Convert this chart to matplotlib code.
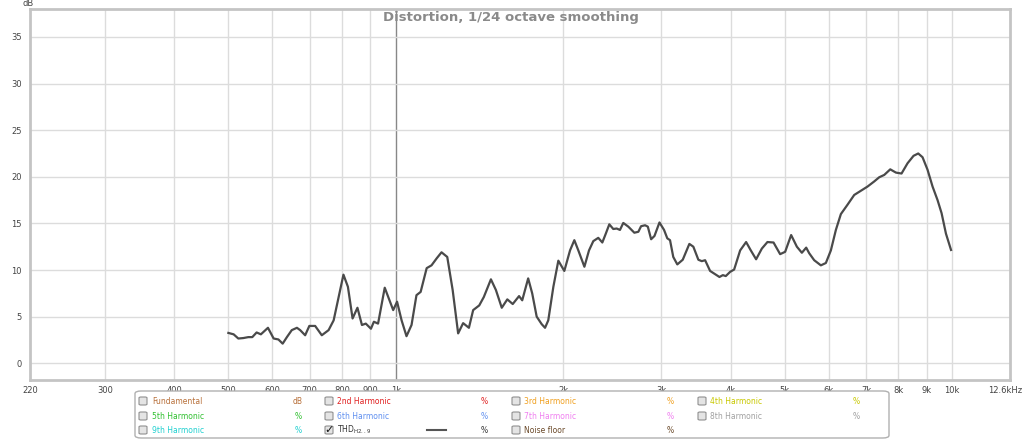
import matplotlib.pyplot as plt
import matplotlib.patches as mpatches
import numpy as np

# THD H2..9 curve (Hz, dB)
freq = [500, 511, 521, 532, 543, 552, 562, 572, 589, 603, 615, 626, 637, 650,
        664, 673, 687, 699, 716, 736, 757, 773, 789, 805, 820, 836, 853, 869,
        883, 902, 913, 929, 955, 969, 989, 1005, 1024, 1045, 1067, 1089, 1108,
        1136, 1159, 1184, 1208, 1237, 1265, 1294, 1321, 1353, 1377, 1412, 1439,
        1482, 1513, 1550, 1586, 1622, 1665, 1687, 1729, 1758, 1791, 1828, 1854,
        1879, 1919, 1959, 2008, 2056, 2093, 2128, 2182, 2224, 2264, 2311, 2350,
        2384, 2419, 2459, 2494, 2528, 2563, 2617, 2683, 2728, 2759, 2805, 2837,
        2876, 2916, 2977, 3034, 3075, 3110, 3152, 3205, 3278, 3369, 3425, 3497,
        3547, 3596, 3671, 3748, 3816, 3870, 3917, 3988, 4055, 4157, 4261, 4345,
        4441, 4548, 4654, 4773, 4905, 5008, 5134, 5257, 5367, 5464, 5532, 5648,
        5806, 5927, 6051, 6178, 6307, 6482, 6665, 6852, 7042, 7240, 7392, 7547,
        7737, 7921, 8107, 8311, 8520, 8687, 8843, 9029, 9218, 9410, 9568, 9743,
        9950]
thd = [3.25, 3.1, 2.65, 2.7, 2.8, 2.8, 3.3, 3.1, 3.8, 2.65, 2.55, 2.1, 2.8, 3.55,
       3.8, 3.55, 3.0, 4.0, 4.0, 3.0, 3.55, 4.6, 7.1, 9.5, 8.2, 4.8, 5.95, 4.1,
       4.25, 3.7, 4.45, 4.25, 8.1, 7.1, 5.7, 6.6, 4.6, 2.9, 4.1, 7.3, 7.65,
       10.2, 10.5, 11.25, 11.9, 11.4, 7.85, 3.2, 4.3, 3.8, 5.7, 6.2, 7.1, 9.0,
       7.85, 5.95, 6.85, 6.35, 7.2, 6.75, 9.1, 7.5, 5.0, 4.2, 3.8, 4.6, 8.2,
       11.0, 9.9, 12.1, 13.2, 12.1, 10.35, 12.1, 13.1, 13.45, 12.95, 13.9, 14.9,
       14.4, 14.45, 14.3, 15.05, 14.65, 14.0, 14.1, 14.7, 14.8, 14.65, 13.3,
       13.65, 15.1, 14.3, 13.4, 13.2, 11.4, 10.6, 11.1, 12.8, 12.5, 11.1, 10.95,
       11.05, 9.9, 9.55, 9.25, 9.45, 9.35, 9.8, 10.05, 12.1, 13.0, 12.1, 11.15,
       12.3, 13.0, 12.95, 11.7, 11.95, 13.75, 12.5, 11.85, 12.4, 11.8, 11.05,
       10.5, 10.75, 12.1, 14.3, 16.0, 17.0, 18.05, 18.5, 18.95, 19.5, 19.95,
       20.2, 20.8, 20.45, 20.35, 21.45, 22.25, 22.5, 22.1, 20.75, 18.95, 17.5,
       16.1, 13.9, 12.15]

x_ticks = [220, 300, 400, 500, 600, 700, 800, 900, 1000, 2000, 3000, 4000,
           5000, 6000, 7000, 8000, 9000, 10000, 12600]
x_labels = ['220', '300', '400', '500', '600', '700', '800', '900', '1k', '2k',
            '3k', '4k', '5k', '6k', '7k', '8k', '9k', '10k', '12.6kHz']
y_ticks = [0, 5, 10, 15, 20, 25, 30, 35]

# legend rows: (label, colour, unit)
legend_rows = [
    [('Fundamental', '#b8703a', 'dB'), ('2nd Harmonic', '#e02020', '%'),
     ('3rd Harmonic', '#f0a020', '%'), ('4th Harmonic', '#c8c800', '%')],
    [('5th Harmonic', '#30c030', '%'), ('6th Harmonic', '#6090f0', '%'),
     ('7th Harmonic', '#f080f0', '%'), ('8th Harmonic', '#a0a0a0', '%')],
    [('9th Harmonic', '#20d0d0', '%'), ('THD', '#333333', '%'),
     ('Noise floor', '#6b4a2a', '%')],
]

W, H = 1024, 440
fig = plt.figure(figsize=(W / 100, H / 100), dpi=100)
fig.patch.set_facecolor('white')

ax = fig.add_axes([30 / W, 1 - 380 / H, 980 / W, 371 / H])
ax.set_xscale('log')
ax.set_xlim(220, 12700)
ax.set_ylim(-1.8, 38)

for f in x_ticks[1:-1]:
    ax.axvline(f, color='#888888' if f == 1000 else '#dcdcdc', lw=1, zorder=1)
for y in y_ticks:
    ax.axhline(y, color='#dcdcdc', lw=1, zorder=1)

ax.plot(freq, thd, color='#4a4a4a', lw=1.6, zorder=3)

ax.set_xticks(x_ticks)
ax.set_xticklabels(x_labels)
ax.xaxis.set_minor_locator(plt.NullLocator())
ax.set_yticks(y_ticks)
ax.tick_params(length=0, labelsize=6, labelcolor='#444444')
ax.tick_params(axis='x', pad=4)
ax.tick_params(axis='y', pad=6)
# keep the last label inside the picture
ax.get_xticklabels()[-1].set_horizontalalignment('right')
ax.get_xticklabels()[-1].set_x(12600)
for s in ax.spines.values():
    s.set_color('#c4c4c4')
    s.set_linewidth(2)

import matplotlib.transforms as mtransforms
last = ax.get_xticklabels()[-1]
last.set_transform(last.get_transform() + mtransforms.ScaledTranslation(14 / 100, 0, fig.dpi_scale_trans))

fig.text(28 / W, 1 - 4 / H, 'dB', fontsize=6, color='#444444',
         ha='center', va='center')
fig.text(511 / W, 1 - 17 / H, 'Distortion, 1/24 octave smoothing',
         fontsize=9.5, fontweight='bold', color='#8a8a8a',
         ha='center', va='center')

# legend panel below the plot
box = mpatches.FancyBboxPatch((135 / W, 1 - 438 / H), 754 / W, 47 / H,
                              boxstyle='round,pad=0,rounding_size=0.006',
                              transform=fig.transFigure, facecolor='white',
                              edgecolor='#b0b0b0', lw=1)
fig.patches.append(box)

col_box = [143, 329, 516, 702]
col_text = [152, 337, 524, 710]
col_unit = [298, 484, 670, 856]
row_y = [401, 416, 430]
for r, row in enumerate(legend_rows):
    yy = 1 - row_y[r] / H
    for c, (name, colour, unit) in enumerate(row):
        sq = mpatches.FancyBboxPatch(((col_box[c] - 4) / W, yy - 4 / H),
                                     8 / W, 8 / H,
                                     boxstyle='round,pad=0,rounding_size=0.002',
                                     transform=fig.transFigure,
                                     facecolor='#e4e4e4', edgecolor='#909090',
                                     lw=0.8)
        fig.patches.append(sq)
        if name == 'THD':
            fig.text(col_box[c] / W, yy, '\u2713', fontsize=8, color='#111111',
                     ha='center', va='center')
            fig.text(col_text[c] / W, yy, r'THD$_{\mathregular{H2..9}}$',
                     fontsize=5.5, color=colour, va='center')
            fig.lines.append(plt.Line2D([427 / W, 446 / W], [yy, yy],
                                        transform=fig.transFigure,
                                        color='#555555', lw=1.5))
        else:
            fig.text(col_text[c] / W, yy, name, fontsize=5.5, color=colour,
                     va='center')
        fig.text(col_unit[c] / W, yy, unit, fontsize=5.5, color=colour,
                 va='center', ha='center')

fig.savefig('out.png', dpi=100)
